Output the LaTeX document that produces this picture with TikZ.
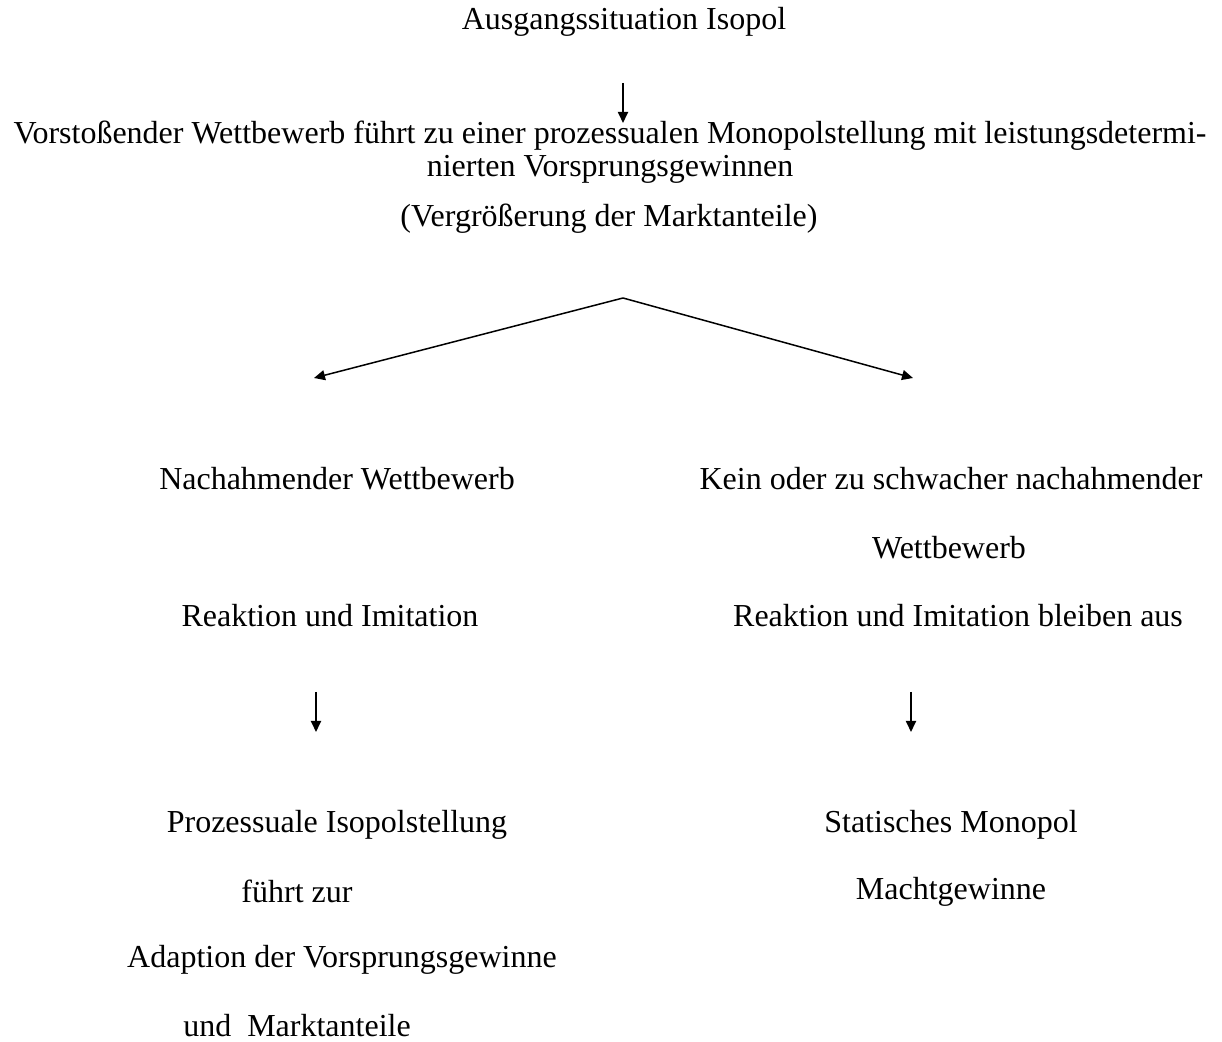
\documentclass[tikz,border=0pt]{standalone}
\usepackage{fontspec}
\setmainfont{Liberation Serif}
\usetikzlibrary{arrows.meta}

\begin{document}
\begin{tikzpicture}[x=0.5pt,y=-0.5pt,
    txt/.style={inner sep=0pt,font=\fontsize{16}{16.5}\selectfont},
    pfeil/.style={line width=0.9pt,-{Triangle[length=5.5pt,width=5pt]}}]
     \useasboundingbox (0,0) rectangle (1222,1042);
      % Ausgangslage
      \node[txt] (aus) at (624,22) {Ausgangssituation Isopol};
      \coordinate (a1) at (623,83);
      \coordinate (a2) at (623,123);
      \draw[pfeil] (a1) -- (a2);
      \node[txt,align=center] (vor) at (610,152) {Vorstoßender Wettbewerb führt zu einer prozessualen Monopolstellung mit leistungsdetermi-\\nierten Vorsprungsgewinnen};
      \node[txt] (verg) at (609,219) {(Vergrößerung der Marktanteile)};
      
      % Verzweigung
      \coordinate (spitze) at (623,298);
      \coordinate (li) at (314,378);
      \coordinate (re) at (913,378);
      \draw[pfeil,line width=0.75pt] (spitze) -- (li);
      \draw[pfeil,line width=0.75pt] (spitze) -- (re);
      
      % linker Zweig
      \node[txt] (nach) at (337,479) {Nachahmender Wettbewerb};
      \node[txt] (reak) at (330,616) {Reaktion und Imitation};
      \coordinate (l1) at (316,692);
      \coordinate (l2) at (316,732);
      \draw[pfeil] (l1) -- (l2);
      \node[txt] (proz) at (337,825) {Prozessuale Isopolstellung};
      \node[txt] (fuehrt) at (297,891) {führt zur};
      \node[txt] (adap) at (342,960) {Adaption der Vorsprungsgewinne};
      \node[txt] (und) at (297,1026) {und\ \ Marktanteile};
      
      % rechter Zweig
      \node[txt] (kein) at (951,479) {Kein oder zu schwacher nachahmender};
      \node[txt] (wett) at (949,548) {Wettbewerb};
      \node[txt] (bleib) at (958,616) {Reaktion und Imitation bleiben aus};
      \coordinate (r1) at (911,692);
      \coordinate (r2) at (911,732);
      \draw[pfeil] (r1) -- (r2);
      \node[txt] (stat) at (951,825) {Statisches Monopol};
      \node[txt] (macht) at (951,892) {Machtgewinne};
\end{tikzpicture}
\end{document}
